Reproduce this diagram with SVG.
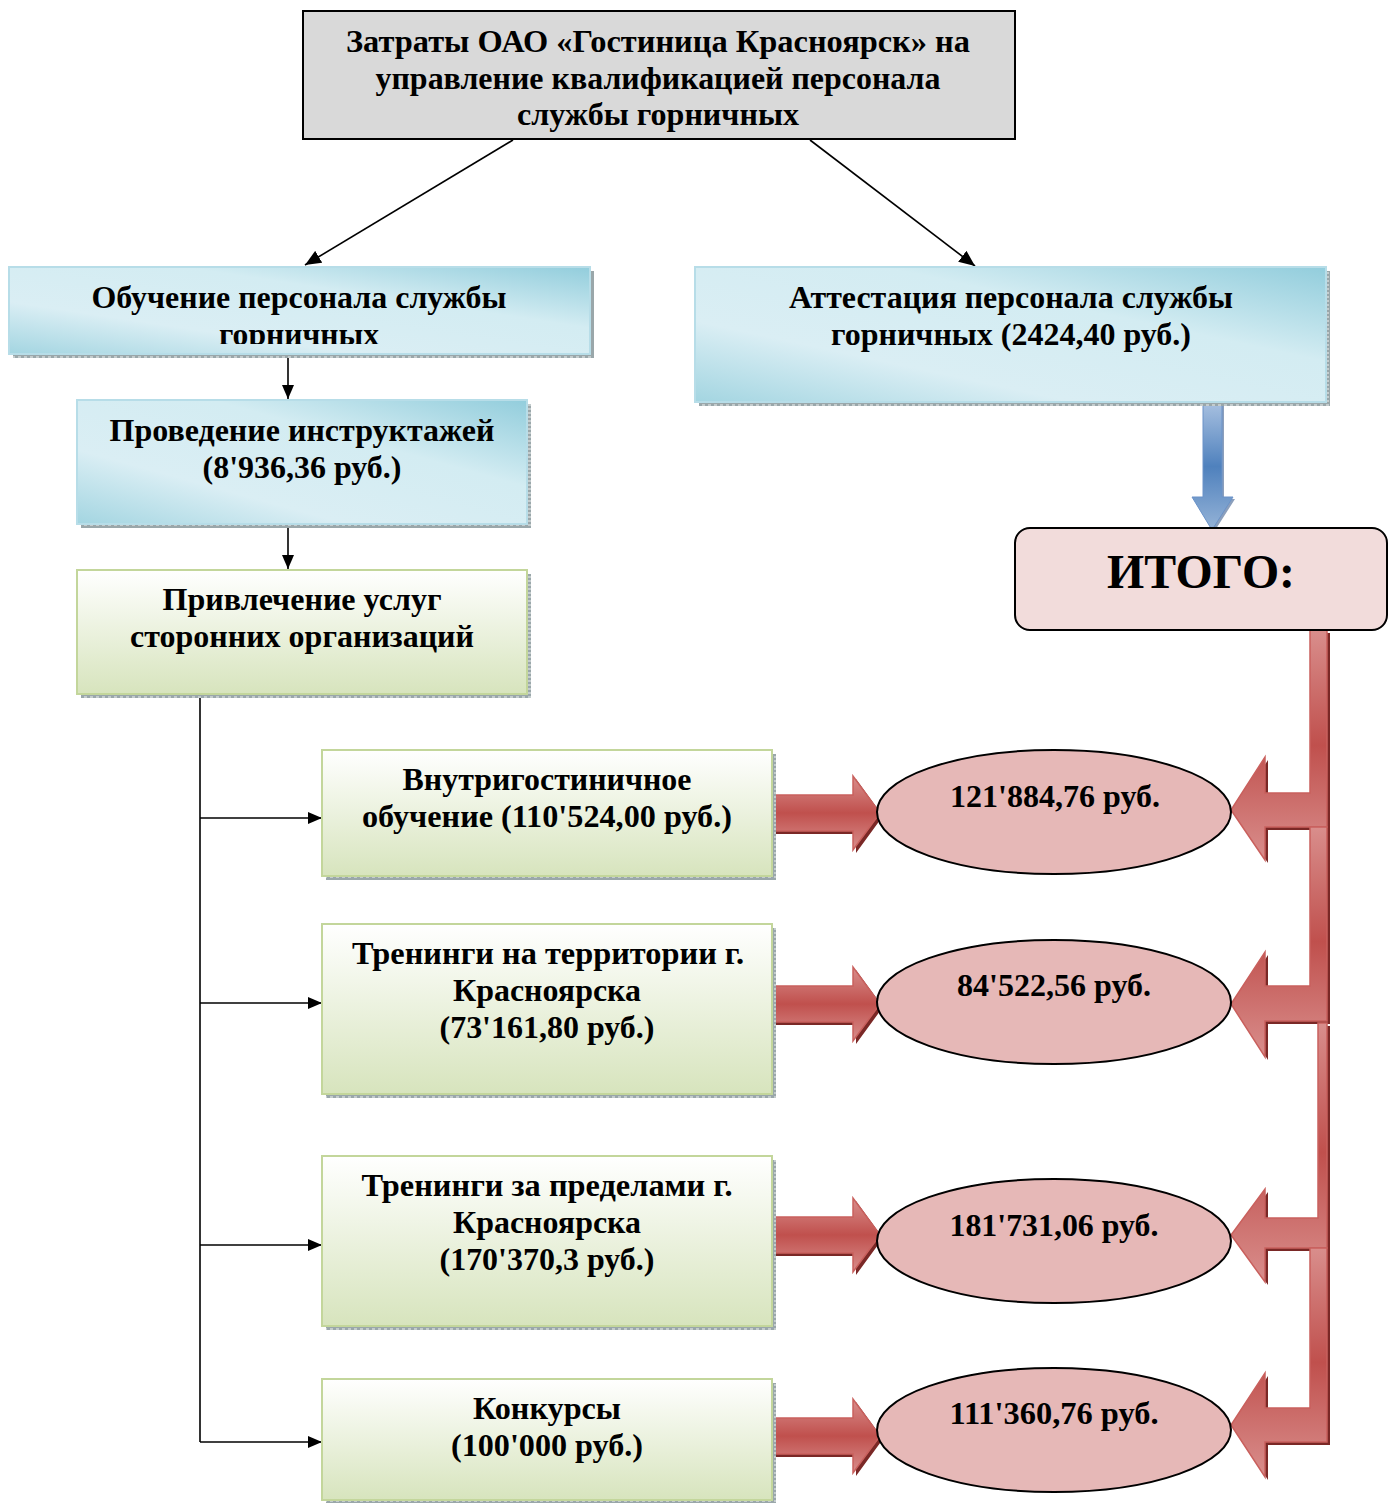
<svg xmlns="http://www.w3.org/2000/svg" width="1397" height="1503" viewBox="0 0 1397 1503">
<style>
.t{font-family:"Liberation Serif","Times New Roman",serif;font-weight:bold;font-size:31px;fill:#000;text-anchor:middle}
.blue{fill:url(#gBlue);stroke:#b7dde8;stroke-width:2}
.green{fill:url(#gGreen);stroke:#c3d69b;stroke-width:2}
.shadow{fill:url(#hatch)}
.ell{fill:#e6b8b7;stroke:#000;stroke-width:2}
.ln{stroke:#000;stroke-width:1.6;fill:none}
.rarrow{fill:url(#gRed);stroke:#c9605d;stroke-width:1.5}
.rshadow{fill:#7a2826}
</style>
<defs>
<linearGradient id="gBlue" x1="0" y1="1" x2="1" y2="0">
<stop offset="0" stop-color="#a3d5e1"/>
<stop offset="0.3" stop-color="#daeef4"/>
<stop offset="0.65" stop-color="#d3ecf2"/>
<stop offset="1" stop-color="#92cddc"/>
</linearGradient>
<linearGradient id="gGreen" x1="0" y1="0" x2="0" y2="1">
<stop offset="0" stop-color="#ffffff"/>
<stop offset="1" stop-color="#d7e4bd"/>
</linearGradient>
<linearGradient id="gRed" x1="0" y1="0" x2="0" y2="1">
<stop offset="0" stop-color="#d98e8c"/>
<stop offset="0.5" stop-color="#c0504d"/>
<stop offset="1" stop-color="#d98e8c"/>
</linearGradient>
<linearGradient id="gRedV" x1="0" y1="0" x2="0" y2="1">
<stop offset="0" stop-color="#d98e8c"/>
<stop offset="0.5" stop-color="#c0504d"/>
<stop offset="1" stop-color="#d98e8c"/>
</linearGradient>
<linearGradient id="gBlueArrow" x1="0" y1="0" x2="0" y2="1">
<stop offset="0" stop-color="#a7c0e0"/>
<stop offset="0.5" stop-color="#4f81bd"/>
<stop offset="1" stop-color="#95b3d7"/>
</linearGradient>
<pattern id="hatch" width="6" height="4" patternUnits="userSpaceOnUse">
<rect width="6" height="4" fill="#9aa7aa"/>
<rect width="3" height="2" fill="#c4cccd"/>
</pattern>
<marker id="ah" viewBox="0 0 14 12" refX="14" refY="6" markerWidth="14" markerHeight="12" markerUnits="userSpaceOnUse" orient="auto">
<path d="M0,0 L14,6 L0,12 z" fill="#000"/>
</marker>
<marker id="ahBig" viewBox="0 0 14 12" refX="14" refY="6" markerWidth="16" markerHeight="14" markerUnits="userSpaceOnUse" orient="auto">
<path d="M0,0 L14,6 L0,12 z" fill="#000"/>
</marker>
<clipPath id="clip1"><rect x="9" y="267" width="582" height="77"/></clipPath>
</defs>
<rect width="1397" height="1503" fill="#fff"/>

<g id="connectors">
<line class="ln" x1="513" y1="140" x2="305" y2="265" marker-end="url(#ahBig)"/>
<line class="ln" x1="810" y1="140" x2="975" y2="266" marker-end="url(#ahBig)"/>
<line class="ln" x1="288" y1="356" x2="288" y2="399" marker-end="url(#ah)"/>
<line class="ln" x1="288" y1="526" x2="288" y2="569" marker-end="url(#ah)"/>
<line class="ln" x1="200" y1="695" x2="200" y2="1442"/>
<line class="ln" x1="200" y1="818" x2="322" y2="818" marker-end="url(#ah)"/>
<line class="ln" x1="200" y1="1003" x2="322" y2="1003" marker-end="url(#ah)"/>
<line class="ln" x1="200" y1="1245" x2="322" y2="1245" marker-end="url(#ah)"/>
<line class="ln" x1="200" y1="1442" x2="322" y2="1442" marker-end="url(#ah)"/>
<!-- blue block arrow -->
<polygon points="1205,405 1224,405 1224,499 1235,499 1214,532 1194,499 1205,499" fill="#3d5f8f" opacity="0.6"/>
<polygon points="1203,403 1222,403 1222,497 1233,497 1212,530 1192,497 1203,497" fill="url(#gBlueArrow)" stroke="#6a92c8" stroke-width="1"/>
<!-- red right arrows -->
<g>
<polygon class="rshadow" points="776,798 856,798 856,779 883,816 856,853 856,834 776,834"/>
<polygon class="rarrow" points="773,795 853,795 853,776 880,813 853,850 853,831 773,831"/>
<polygon class="rshadow" points="776,989 856,989 856,970 883,1007 856,1044 856,1025 776,1025"/>
<polygon class="rarrow" points="773,986 853,986 853,967 880,1004 853,1041 853,1022 773,1022"/>
<polygon class="rshadow" points="776,1220 856,1220 856,1201 883,1238 856,1275 856,1256 776,1256"/>
<polygon class="rarrow" points="773,1217 853,1217 853,1198 880,1235 853,1272 853,1253 773,1253"/>
<polygon class="rshadow" points="776,1421 856,1421 856,1402 883,1439 856,1476 856,1457 776,1457"/>
<polygon class="rarrow" points="773,1418 853,1418 853,1399 880,1436 853,1473 853,1454 773,1454"/>
</g>
<!-- red bent arrows from ИТОГО -->
<g>
<polygon class="rshadow" points="1313,633 1330,633 1330,830 1268,830 1268,863 1234,813 1268,760 1268,796 1313,796"/>
<polygon points="1310,630 1327,630 1327,827 1265,827 1265,860 1231,810 1265,757 1265,793 1310,793" fill="url(#gRedV)" stroke="#c9605d" stroke-width="1.5"/>
<polygon class="rshadow" points="1313,830 1330,830 1330,1024 1268,1024 1268,1060 1234,1007 1268,955 1268,989 1313,989"/>
<polygon points="1310,827 1327,827 1327,1021 1265,1021 1265,1057 1231,1004 1265,952 1265,986 1310,986" fill="url(#gRedV)" stroke="#c9605d" stroke-width="1.5"/>
<polygon class="rshadow" points="1321,1026 1330,1026 1330,1251 1268,1251 1268,1285 1234,1238 1268,1192 1268,1221 1321,1221"/>
<polygon points="1318,1023 1327,1023 1327,1248 1265,1248 1265,1282 1231,1235 1265,1189 1265,1218 1318,1218" fill="url(#gRedV)" stroke="#c9605d" stroke-width="1.5"/>
<polygon class="rshadow" points="1313,1251 1330,1251 1330,1445 1268,1445 1268,1480 1234,1428 1268,1376 1268,1411 1313,1411"/>
<polygon points="1310,1248 1327,1248 1327,1442 1265,1442 1265,1477 1231,1425 1265,1373 1265,1408 1310,1408" fill="url(#gRedV)" stroke="#c9605d" stroke-width="1.5"/>
</g>
</g>

<g id="node-top">
<rect x="303" y="11" width="712" height="128" fill="#d9d9d9" stroke="#000" stroke-width="2"/>
<text class="t" x="658" y="52" textLength="624" lengthAdjust="spacingAndGlyphs">Затраты ОАО «Гостиница Красноярск» на</text>
<text class="t" x="658" y="89" textLength="565" lengthAdjust="spacingAndGlyphs">управление квалификацией персонала</text>
<text class="t" x="658" y="125" textLength="282" lengthAdjust="spacingAndGlyphs">службы горничных</text>
</g>

<g id="node-obuchenie">
<rect class="shadow" x="13" y="271" width="581" height="87"/>
<rect class="blue" x="9" y="267" width="581" height="87"/>
<g clip-path="url(#clip1)">
<text class="t" x="299" y="308" textLength="415" lengthAdjust="spacingAndGlyphs">Обучение персонала службы</text>
<text class="t" x="299" y="345" textLength="160" lengthAdjust="spacingAndGlyphs">горничных</text>
</g>
</g>

<g id="node-attestacia">
<rect class="shadow" x="699" y="271" width="631" height="135"/>
<rect class="blue" x="695" y="267" width="631" height="135"/>
<text class="t" x="1011" y="308" textLength="444" lengthAdjust="spacingAndGlyphs">Аттестация персонала службы</text>
<text class="t" x="1011" y="345" textLength="360" lengthAdjust="spacingAndGlyphs">горничных (2424,40 руб.)</text>
</g>

<g id="node-instruktazh">
<rect class="shadow" x="81" y="404" width="450" height="124"/>
<rect class="blue" x="77" y="400" width="450" height="124"/>
<text class="t" x="302" y="441" textLength="385" lengthAdjust="spacingAndGlyphs">Проведение инструктажей</text>
<text class="t" x="302" y="478" textLength="199" lengthAdjust="spacingAndGlyphs">(8'936,36 руб.)</text>
</g>

<g id="node-privlechenie">
<rect class="shadow" x="81" y="574" width="450" height="124"/>
<rect class="green" x="77" y="570" width="450" height="124"/>
<text class="t" x="302" y="610" textLength="279" lengthAdjust="spacingAndGlyphs">Привлечение услуг</text>
<text class="t" x="302" y="647" textLength="344" lengthAdjust="spacingAndGlyphs">сторонних организаций</text>
</g>

<g id="node-itogo">
<rect x="1015" y="528" width="372" height="102" rx="15" fill="#f2dcdb" stroke="#000" stroke-width="2"/>
<text class="t" x="1201" y="588" style="font-size:48px" textLength="188" lengthAdjust="spacingAndGlyphs">ИТОГО:</text>
</g>

<g id="node-vnutri">
<rect class="shadow" x="326" y="754" width="450" height="126"/>
<rect class="green" x="322" y="750" width="450" height="126"/>
<text class="t" x="547" y="790" textLength="289" lengthAdjust="spacingAndGlyphs">Внутригостиничное</text>
<text class="t" x="547" y="827" textLength="370" lengthAdjust="spacingAndGlyphs">обучение (110'524,00 руб.)</text>
</g>

<g id="node-trening-krsk">
<rect class="shadow" x="326" y="928" width="450" height="170"/>
<rect class="green" x="322" y="924" width="450" height="170"/>
<text class="t" x="548" y="964" textLength="392" lengthAdjust="spacingAndGlyphs">Тренинги на территории г.</text>
<text class="t" x="547" y="1001" textLength="188" lengthAdjust="spacingAndGlyphs">Красноярска</text>
<text class="t" x="547" y="1038" textLength="215" lengthAdjust="spacingAndGlyphs">(73'161,80 руб.)</text>
</g>

<g id="node-trening-out">
<rect class="shadow" x="326" y="1160" width="450" height="170"/>
<rect class="green" x="322" y="1156" width="450" height="170"/>
<text class="t" x="547" y="1196" textLength="371" lengthAdjust="spacingAndGlyphs">Тренинги за пределами г.</text>
<text class="t" x="547" y="1233" textLength="188" lengthAdjust="spacingAndGlyphs">Красноярска</text>
<text class="t" x="547" y="1270" textLength="215" lengthAdjust="spacingAndGlyphs">(170'370,3 руб.)</text>
</g>

<g id="node-konkursy">
<rect class="shadow" x="326" y="1383" width="450" height="120"/>
<rect class="green" x="322" y="1379" width="450" height="121"/>
<text class="t" x="547" y="1419" textLength="148" lengthAdjust="spacingAndGlyphs">Конкурсы</text>
<text class="t" x="547" y="1456" textLength="192" lengthAdjust="spacingAndGlyphs">(100'000 руб.)</text>
</g>

<g id="node-e1">
<ellipse class="ell" cx="1054" cy="812" rx="177" ry="62"/>
<text class="t" x="1055" y="807" textLength="210" lengthAdjust="spacingAndGlyphs">121'884,76 руб.</text>
</g>
<g id="node-e2">
<ellipse class="ell" cx="1054" cy="1002" rx="177" ry="62"/>
<text class="t" x="1054" y="996" textLength="194" lengthAdjust="spacingAndGlyphs">84'522,56 руб.</text>
</g>
<g id="node-e3">
<ellipse class="ell" cx="1054" cy="1241" rx="177" ry="62"/>
<text class="t" x="1054" y="1236" textLength="209" lengthAdjust="spacingAndGlyphs">181'731,06 руб.</text>
</g>
<g id="node-e4">
<ellipse class="ell" cx="1054" cy="1430" rx="177" ry="62"/>
<text class="t" x="1054" y="1424" textLength="209" lengthAdjust="spacingAndGlyphs">111'360,76 руб.</text>
</g>
</svg>
